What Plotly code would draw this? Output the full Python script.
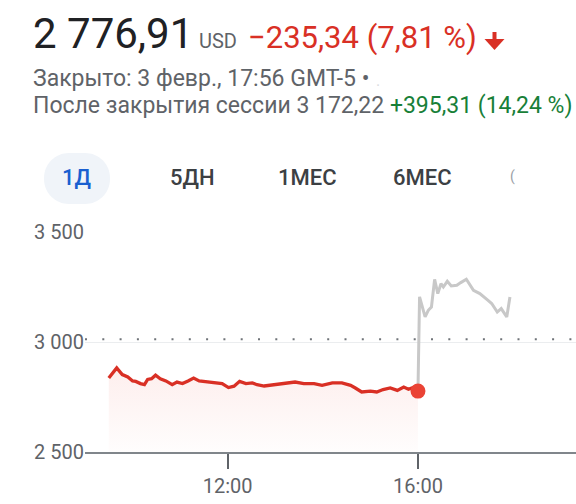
import plotly.graph_objects as go

# ---------------- data ----------------
DATE = "2022-02-03"
reg_times = ["09:30", "09:40", "09:47", "09:54", "10:00", "10:04", "10:10", "10:15", "10:19",
             "10:24", "10:29", "10:35", "10:42", "10:50", "10:56", "11:03", "11:10", "11:17",
             "11:24", "11:34", "11:45", "11:53", "12:01", "12:08", "12:15", "12:23", "12:31",
             "12:37", "12:46", "13:00", "13:13", "13:25", "13:36", "13:49", "13:59", "14:12",
             "14:24", "14:35", "14:41", "14:49", "15:00", "15:08", "15:16", "15:25", "15:34",
             "15:42", "15:48", "15:55", "16:00"]
reg_prices = [2836, 2882, 2852, 2841, 2823, 2821, 2811, 2806, 2830,
              2833, 2849, 2833, 2823, 2806, 2818, 2811, 2823, 2836,
              2823, 2818, 2815, 2811, 2793, 2799, 2821, 2811, 2814,
              2806, 2800, 2806, 2811, 2818, 2811, 2811, 2803, 2814,
              2814, 2803, 2791, 2773, 2777, 2773, 2784, 2791, 2780,
              2795, 2785, 2795, 2776.91]
ah_times = ["16:00", "16:02", "16:09", "16:13", "16:17", "16:21", "16:25", "16:29", "16:32",
            "16:37", "16:42", "16:49", "16:54", "17:01", "17:10", "17:18", "17:28", "17:33",
            "17:40", "17:45", "17:52", "17:56"]
ah_prices = [2776.91, 3205, 3114, 3144, 3159, 3285, 3220, 3265, 3250,
             3276, 3255, 3258, 3270, 3285, 3235, 3220, 3190, 3175,
             3136, 3152, 3114, 3205]
prev_close = 3012.25
close_price = 2776.91
y_tickvals = [2500, 3000, 3500]
y_ticktext = ["2\u00a0500", "3\u00a0000", "3\u00a0500"]
x_ticks = ["12:00", "16:00"]
tabs = ["1Д", "5ДН", "1МЕС", "6МЕС"]
price_text = "2\u00a0776,91"
currency = "USD"
change_text = "\u2212235,34 (7,81\u00a0%)"
closed_text = "Закрыто: 3 февр., 17:56 GMT-5 •"
ah_label = "После закрытия сессии 3\u00a0172,22"
ah_change = "+395,31 (14,24\u00a0%)"

# ---------------- geometry helpers ----------------
L, R, T, B = 85, 576, 232, 452
W, H = R - L, B - T
def px(x): return (x - L) / W
def py(y): return (B - y) / H
def dt(t): return f"{DATE} {t}"

RED = "#d93025"
DOT = "#ea4335"
GRAY_TXT = "#5f6368"
FONT = "Roboto"

fig = go.Figure()
fig.add_trace(go.Scatter(
    x=[dt(t) for t in reg_times], y=reg_prices, mode="lines",
    line=dict(color=RED, width=3.3), fill="tozeroy",
    fillgradient=dict(type="vertical", start=2500, stop=2890,
                      colorscale=[[0, "rgba(234,67,53,0.01)"], [1, "rgba(234,67,53,0.09)"]]),
    hoverinfo="skip", showlegend=False))
fig.add_trace(go.Scatter(
    x=[dt(t) for t in ah_times], y=ah_prices, mode="lines",
    line=dict(color="#c8c8c8", width=3), hoverinfo="skip", showlegend=False))
fig.add_trace(go.Scatter(
    x=[dt("16:00")], y=[close_price], mode="markers",
    marker=dict(color=DOT, size=15), hoverinfo="skip", showlegend=False))

# previous close dotted line
fig.add_shape(type="line", xref="paper", yref="y", x0=0, x1=1, y0=prev_close, y1=prev_close,
              line=dict(color="#6f7378", width=2, dash="2px,15.3px"), layer="above")

def text_ann(x, baseline, text, size, color, anchor="left", weight=None):
    f = dict(family=FONT, size=size, color=color)
    if weight:
        f["weight"] = weight
    return dict(x=px(x), y=py(baseline - 0.345 * size), xref="paper", yref="paper",
                xanchor=anchor, yanchor="middle", showarrow=False, text=text, font=f)

ann = [
    text_ann(31, 48, price_text, 42, "#202124"),
    text_ann(197, 48, currency, 20, GRAY_TXT),
    text_ann(246, 48, change_text, 31, RED),
    text_ann(31, 86, closed_text, 23, GRAY_TXT),
    text_ann(374, 86, ".", 16, "#dadce0"),
    text_ann(31, 113, f"{ah_label} <span style='color:#188038'>{ah_change}</span>", 23, GRAY_TXT),
]

tab_centers = [77, 192, 307, 422]
for i, (t, cx) in enumerate(zip(tabs, tab_centers)):
    ann.append(text_ann(cx, 185, t, 22, "#1a5fd0" if i == 0 else "#3c4043",
                        anchor="center", weight=500))
ann.append(text_ann(512, 181, "(", 14, "#9aa0a6", anchor="center"))

# pill behind "1Д"
def rounded_rect(x0, y0, x1, y1, r):
    k = 0.5523 * r
    pts = [
        f"M {px(x0 + r)},{py(y0)}",
        f"L {px(x1 - r)},{py(y0)}",
        f"C {px(x1 - r + k)},{py(y0)} {px(x1)},{py(y0 + r - k)} {px(x1)},{py(y0 + r)}",
        f"L {px(x1)},{py(y1 - r)}",
        f"C {px(x1)},{py(y1 - r + k)} {px(x1 - r + k)},{py(y1)} {px(x1 - r)},{py(y1)}",
        f"L {px(x0 + r)},{py(y1)}",
        f"C {px(x0 + r - k)},{py(y1)} {px(x0)},{py(y1 - r + k)} {px(x0)},{py(y1 - r)}",
        f"L {px(x0)},{py(y0 + r)}",
        f"C {px(x0)},{py(y0 + r - k)} {px(x0 + r - k)},{py(y0)} {px(x0 + r)},{py(y0)} Z",
    ]
    return " ".join(pts)

fig.add_shape(type="path", xref="paper", yref="paper", path=rounded_rect(44, 153, 110, 204, 25),
              fillcolor="#f0f4f9", line=dict(width=0), layer="below")

# red down arrow
ax = 494.5
fig.add_shape(type="line", xref="paper", yref="paper", x0=px(ax), x1=px(ax), y0=py(32), y1=py(42),
              line=dict(color=RED, width=4))
fig.add_shape(type="path", xref="paper", yref="paper",
              path=f"M {px(484.5)},{py(39)} L {px(504.5)},{py(39)} L {px(ax)},{py(50)} Z",
              fillcolor=RED, line=dict(width=0))

fig.update_layout(
    width=576, height=504,
    margin=dict(l=L, r=576 - R, t=T, b=504 - B, autoexpand=False),
    paper_bgcolor="white", plot_bgcolor="white",
    annotations=ann, showlegend=False,
    font=dict(family=FONT),
)
fig.update_xaxes(
    type="date", range=[dt("09:00"), dt("19:19:20")],
    tickvals=[dt(t) for t in x_ticks], ticktext=x_ticks,
    ticks="outside", ticklen=15, tickwidth=2, tickcolor=GRAY_TXT,
    showline=True, linecolor="#80868b", linewidth=2,
    showgrid=False, zeroline=False,
    tickfont=dict(family=FONT, size=20, color=GRAY_TXT),
)
fig.update_yaxes(
    range=[2500, 3500], tickvals=y_tickvals, ticktext=y_ticktext,
    showgrid=True, gridcolor="#ebedef", gridwidth=1, zeroline=False, showline=False,
    ticks="", tickfont=dict(family=FONT, size=20, color=GRAY_TXT),
)

fig.write_html("out.html", config={"displayModeBar": False},
               post_script="document.body.style.margin='0';document.body.style.overflow='hidden';")
